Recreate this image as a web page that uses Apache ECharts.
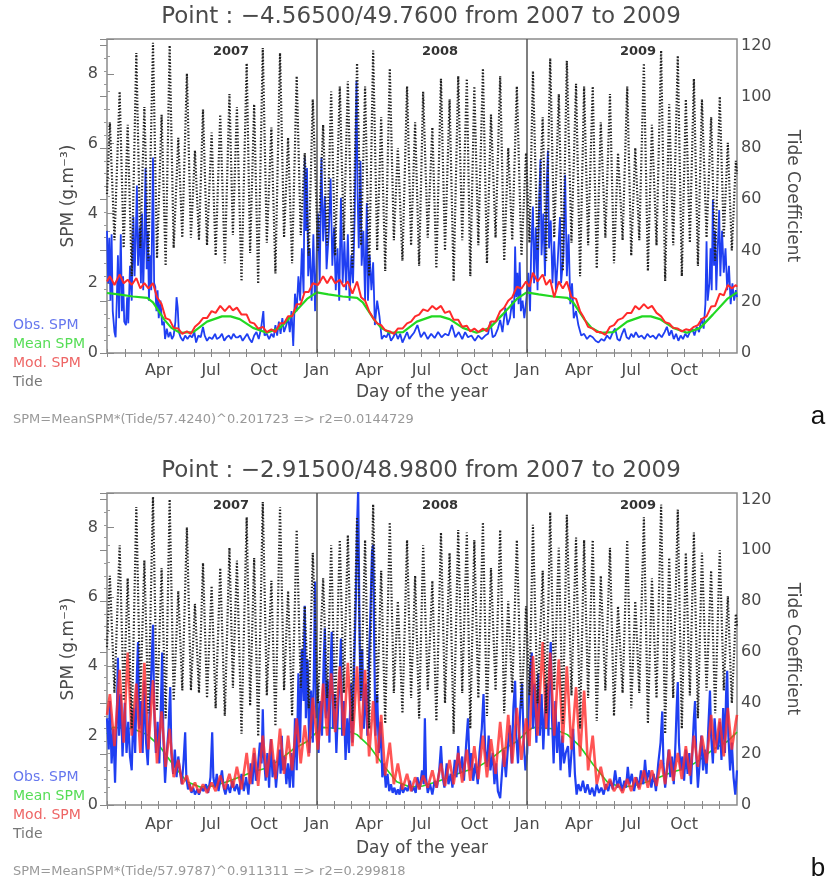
<!DOCTYPE html>
<html>
<head>
<meta charset="utf-8">
<script src="https://cdn.jsdelivr.net/npm/echarts@6/dist/echarts.min.js"></script>
<style>
  html, body { margin: 0; padding: 0; background: #fff; }
  #chart { width: 830px; height: 886px; }
</style>
</head>
<body>
<div id="chart"></div>
<script>
// x axis is "day since 1 Jan 2007" (2007..2009, 2008 leap)
var yearStart = [0, 365, 731];
var yearNames = ['2007', '2008', '2009'];
var monthTicks = [0,31,59,90,120,151,181,212,243,273,304,334,
  365,396,425,456,486,517,547,578,609,639,670,700,
  731,762,790,821,851,882,912,943,974,1004,1035,1065];
var xLabelDays = [90,181,273,365,456,547,639,731,821,912,1004];
var xLabelText = ['Apr','Jul','Oct','Jan','Apr','Jul','Oct','Jan','Apr','Jul','Oct'];

// tide coefficient: alternating spring / neap extrema (same tide for both points)
var tideDay = [0,
  5,13, 22,29, 36,43, 51,58, 65,72, 80,87, 95,102, 109,116, 124,131, 139,146, 153,160, 167,174, 182,189,
  197,205, 213,219, 226,234, 243,249, 256,263, 271,278, 286,293, 301,308, 315,322, 330,337, 344,351, 358,367,
  376,383, 390,397, 405,412, 419,427, 435,442, 449,456, 463,470, 477,484, 492,499, 506,514, 522,529, 536,543,
  550,558, 566,573, 581,588, 596,603, 611,618, 626,632, 639,646, 654,661, 668,676, 684,691, 698,705, 713,721, 729,735,
  741,749, 758,764, 771,778, 786,793, 800,808, 816,823, 830,837, 845,852, 859,867, 875,882, 889,897, 905,912,
  919,926, 934,941, 948,956, 964,971, 978,985, 993,1000, 1007,1014, 1021,1028, 1035,1043, 1051,1058, 1066,1073, 1080,1087,
  1094, 1096];
var tideVal = [62,
  90,44, 102,41, 89,30, 117,41, 96,36, 121,37, 93,34, 120,41, 84,45, 109,45, 79,44, 95,42, 86,38,
  93,35, 101,46, 96,28, 113,39, 97,27, 119,43, 88,31, 117,45, 84,35, 108,46, 78,38, 99,40,
  89,42, 102,38, 104,44, 106,33, 113,42, 104,30, 118,40, 92,32, 111,44, 80,36, 104,42, 90,34,
  102,45, 88,33, 107,40, 99,28, 108,44, 107,30, 104,42, 111,35, 93,45, 108,36, 80,44, 104,38, 78,43,
  110,40, 92,36, 115,45, 101,32, 114,43, 105,30, 104,42, 104,33, 90,45, 101,35, 78,44, 104,38,
  80,44, 113,32, 89,42, 118,28, 97,42, 116,30, 99,43, 107,34, 99,45, 92,36, 100,45, 82,40,
  75, 70];

// modelled SPM, read at the tide extrema (panel a, panel b)
var modA = [2.05,
  2.2,1.95, 2.25,2.0, 2.1,1.95, 2.15,1.85, 2.0,1.85, 2.0,1.6, 1.4,1.0, 0.95,0.72, 0.7,0.55, 0.62,0.55, 0.75,0.85, 1.0,1.0, 1.2,1.15,
  1.35,1.2, 1.35,1.22, 1.3,1.1, 1.1,0.88, 0.85,0.7, 0.75,0.6, 0.68,0.6, 0.85,0.85, 1.05,1.05, 1.4,1.4, 1.75,1.75, 2.0,1.95,
  2.2,2.0, 2.2,2.0, 2.1,1.9, 2.05,1.7, 2.05,1.6, 1.5,1.2, 1.0,0.85, 0.8,0.65, 0.62,0.55, 0.7,0.7, 0.85,0.9, 1.05,1.1,
  1.25,1.2, 1.35,1.25, 1.35,1.15, 1.2,0.95, 0.95,0.75, 0.78,0.62, 0.7,0.6, 0.7,0.62, 0.9,0.9, 1.2,1.3, 1.5,1.6, 1.9,1.85, 2.05,1.9,
  2.3,2.05, 2.25,1.95, 2.1,1.6, 2.05,1.85, 2.05,1.6, 1.55,1.2, 1.0,0.75, 0.7,0.6, 0.6,0.52, 0.75,0.8, 0.95,1.0, 1.15,1.15,
  1.35,1.25, 1.4,1.28, 1.35,1.15, 1.05,0.88, 0.85,0.72, 0.7,0.62, 0.68,0.65, 0.75,0.8, 0.98,1.05, 1.33,1.35, 1.7,1.65, 1.95,1.85,
  1.95, 1.9];
var modB = [2.6,
  3.2,1.7, 3.9,1.8, 4.4,2.0, 3.5,1.5, 4.1,1.6, 3.6,1.2, 2.7,1.1, 2.2,0.8, 1.3,0.6, 0.85,0.4, 0.65,0.35, 0.6,0.35, 0.65,0.4,
  0.85,0.45, 0.9,0.5, 1.1,0.45, 1.5,0.6, 1.65,0.55, 2.0,0.8, 1.9,0.75, 2.2,0.9, 2.0,1.0, 2.5,1.2, 2.3,1.4, 3.1,1.6,
  3.5,2.0, 3.8,2.1, 4.0,2.0, 4.1,1.7, 4.0,1.9, 3.9,1.4, 3.0,1.2, 2.6,0.85, 1.8,0.6, 1.2,0.45, 0.9,0.4, 0.8,0.45,
  0.85,0.5, 1.0,0.5, 1.2,0.55, 1.3,0.6, 1.5,0.65, 1.6,0.7, 1.7,0.75, 2.0,0.8, 1.9,0.9, 2.4,1.1, 2.6,1.2, 2.8,1.3, 2.5,1.7,
  4.3,2.0, 4.7,2.2, 4.4,2.0, 4.2,1.8, 4.0,1.6, 3.4,1.4, 3.3,1.0, 2.0,0.6, 1.1,0.45, 0.75,0.4, 0.6,0.35, 0.75,0.4,
  0.8,0.45, 1.0,0.5, 1.0,0.55, 1.3,0.6, 1.6,0.7, 1.5,0.75, 1.7,0.85, 2.0,1.1, 2.0,1.2, 2.6,1.5, 2.5,1.4, 2.8,1.6,
  2.4, 2.6];

// mean SPM climatology (day of year -> value), same curve every year
var meanA_doy = [0, 20, 45, 70, 80, 90, 100, 112, 127, 150, 174, 200, 215, 231, 254, 278, 301, 323, 348, 365];
var meanA_val = [1.72, 1.68, 1.62, 1.58, 1.45, 1.2, 0.95, 0.72, 0.58, 0.6, 0.9, 1.05, 1.05, 0.97, 0.72, 0.58, 0.72, 1.1, 1.55, 1.74];
var meanB_doy = [0, 10, 45, 70, 92, 115, 139, 162, 184, 209, 231, 254, 278, 301, 323, 348, 365];
var meanB_val = [2.05, 2.24, 2.2, 2.03, 1.69, 1.16, 0.67, 0.52, 0.55, 0.67, 0.81, 0.96, 1.07, 1.31, 1.6, 1.83, 2.1];

// observed SPM [day, value]
var obsA = [[0,3.5],[2,2.0],[4,3.3],[6,1.5],[8,3.4],[10,1.2],[13,0.6],[15,0.45],[17,1.5],[19,2.8],[21,1.0],[24,3.4],
  [26,1.2],[28,2.2],[30,0.9],[33,0.8],[35,1.6],[37,0.85],[40,2.5],[43,1.5],[46,3.9],[48,2.2],[50,3.3],[52,4.8],
  [54,2.5],[57,3.6],[59,2.0],[61,4.0],[63,1.8],[65,3.2],[67,5.3],[69,2.4],[71,3.5],[73,1.5],[75,2.8],[77,1.8],
  [80,5.6],[82,2.0],[84,1.9],[86,1.2],[88,1.8],[90,1.0],[93,1.5],[96,0.8],[99,0.9],[101,0.4],[104,0.7],[107,0.45],
  [110,0.6],[113,0.4],[116,0.5],[119,0.9],[121,1.6],[123,1.3],[125,0.6],[128,0.45],[132,0.35],[136,0.5],[140,0.4],
  [144,0.5],[148,0.45],[152,0.6],[155,0.3],[159,0.5],[163,0.45],[167,0.75],[170,0.5],[174,0.35],[178,0.45],
  [183,0.4],[188,0.55],[191,0.4],[196,0.45],[200,0.55],[204,0.35],[208,0.45],[212,0.5],[216,0.4],[220,0.55],
  [224,0.45],[228,0.45],[232,0.5],[236,0.35],[240,0.45],[244,0.55],[248,0.4],[252,0.3],[256,0.5],[260,0.6],
  [264,0.4],[268,0.7],[272,1.2],[274,0.5],[278,0.55],[282,0.4],[286,0.55],[290,0.45],[293,0.8],[296,0.5],
  [299,0.9],[302,0.55],[305,1.0],[308,0.6],[312,0.8],[315,1.05],[318,0.6],[321,1.2],[324,0.2],[327,1.7],
  [330,1.2],[333,2.2],[336,1.5],[339,3.0],[342,1.7],[344,5.6],[346,3.5],[348,5.3],[350,2.2],[353,3.0],
  [356,1.5],[359,3.4],[362,1.2],
  [365,3.0],[367,4.0],[370,2.0],[373,5.6],[376,3.2],[379,4.5],[382,2.4],[386,3.5],[389,5.0],[392,2.5],[395,3.6],
  [398,1.8],[401,3.0],[404,1.5],[407,4.45],[410,2.0],[413,3.2],[416,1.8],[419,3.4],[422,1.5],[425,2.8],[428,2.0],
  [431,4.0],[434,7.8],[436,4.5],[438,3.0],[441,5.5],[443,2.5],[446,3.5],[449,1.5],[452,4.3],[454,1.5],[457,2.8],
  [460,1.8],[463,2.6],[466,0.8],[470,1.5],[474,1.05],[478,0.4],[482,0.5],[486,0.45],[490,0.6],[494,0.35],
  [498,0.45],[502,0.6],[506,0.4],[510,0.55],[514,0.3],[518,0.45],[522,0.6],[526,0.4],[530,0.5],[534,0.58],
  [540,0.8],[546,0.45],[552,0.6],[558,0.4],[564,0.55],[570,0.43],[576,0.6],[582,0.45],[588,0.55],[594,0.5],
  [600,0.8],[606,0.45],[612,0.6],[618,0.4],[623,0.6],[628,0.45],[634,0.5],[640,0.35],[646,0.5],[652,0.4],
  [658,0.5],[663,0.55],[667,0.9],[671,0.45],[675,0.5],[680,0.7],[684,0.95],[688,0.6],[693,1.3],[697,0.8],
  [701,1.0],[705,1.5],[708,1.0],[710,3.05],[712,1.6],[714,2.3],[716,1.4],[718,2.6],[720,1.2],[723,1.5],
  [726,1.0],[729,1.45],[731,1.8],
  [733,2.3],[736,1.2],[738,3.0],[741,4.2],[743,2.0],[746,3.6],[749,1.8],[752,4.5],[754,5.55],[756,2.8],
  [759,4.0],[762,2.2],[765,4.8],[767,5.8],[769,3.0],[772,3.8],[775,2.0],[778,3.2],[781,1.8],[784,2.6],
  [788,3.9],[790,2.0],[794,2.8],[797,5.1],[800,2.2],[803,3.4],[806,1.4],[809,2.0],[812,1.0],[816,1.2],
  [820,0.8],[825,0.5],[830,0.55],[835,0.4],[840,0.5],[845,0.45],[850,0.35],[855,0.3],[860,0.4],[865,0.35],
  [870,0.5],[875,0.4],[880,0.6],[884,0.7],[888,0.4],[892,0.35],[896,0.55],[900,0.7],[904,0.45],[908,0.4],
  [912,0.55],[916,0.45],[920,0.6],[925,0.45],[930,0.5],[935,0.4],[940,0.55],[945,0.45],[950,0.5],[955,0.4],
  [960,0.55],[965,0.45],[970,0.6],[974,0.75],[978,0.5],[982,0.65],[986,0.4],[990,0.55],[994,0.35],[998,0.5],
  [1002,0.4],[1006,0.55],[1010,0.45],[1014,0.6],[1018,0.7],[1022,0.5],[1026,0.75],[1030,0.6],[1034,1.0],
  [1038,0.7],[1041,1.4],[1043,3.2],[1045,1.5],[1048,2.0],[1050,3.0],[1052,1.8],[1054,4.4],[1056,2.5],
  [1058,3.5],[1060,1.8],[1062,2.8],[1065,4.1],[1067,2.2],[1070,3.5],[1073,2.3],[1076,3.0],[1079,1.8],
  [1082,2.5],[1085,1.4],[1088,2.0],[1091,1.5],[1094,1.8],[1096,1.6]];

var obsB = [[0,2.5],[3,1.6],[5,3.0],[8,1.2],[11,2.2],[14,0.64],[17,2.5],[19,4.25],[21,2.0],[24,3.2],[27,1.4],
  [31,2.95],[34,1.5],[37,2.4],[40,1.4],[43,1.0],[46,2.8],[49,1.5],[52,3.8],[54,4.7],[56,2.2],[59,3.0],[62,1.5],
  [65,3.6],[68,1.8],[71,1.15],[74,2.6],[77,3.8],[80,5.2],[82,2.8],[85,1.5],[88,2.4],[91,1.2],[94,3.0],[96,4.4],
  [98,2.0],[101,0.64],[104,1.5],[107,2.2],[110,3.4],[112,1.5],[115,0.9],[118,1.6],[121,0.8],[124,1.4],[127,1.0],
  [130,0.6],[133,1.2],[136,2.1],[138,0.8],[141,0.45],[144,0.6],[147,0.35],[150,0.5],[153,0.3],[157,0.45],
  [160,0.3],[164,0.5],[168,0.4],[172,0.6],[176,0.35],[180,0.8],[183,2.1],[185,0.8],[188,0.5],[191,0.9],
  [194,0.4],[197,0.7],[200,1.0],[203,0.5],[206,0.3],[210,0.6],[214,0.35],[218,0.7],[222,0.4],[226,0.6],
  [230,0.3],[234,0.9],[238,0.4],[242,0.8],[246,0.3],[250,1.2],[253,0.6],[256,1.5],[259,0.7],[262,1.0],
  [266,1.8],[269,1.2],[271,2.76],[273,1.4],[276,0.7],[279,1.5],[282,0.5],[285,1.9],[288,0.8],[291,1.3],
  [294,0.5],[297,1.1],[300,1.6],[302,0.9],[304,2.0],[306,1.0],[309,1.4],[312,0.6],[315,1.2],[318,0.5],
  [321,1.5],[324,0.5],[327,2.5],[330,1.0],[333,3.8],[336,1.8],[339,4.5],[342,3.0],[344,5.75],[346,2.5],
  [349,4.2],[352,1.5],[355,3.3],[358,1.8],[360,4.0],[362,6.45],[364,2.5],
  [366,3.5],[368,1.5],[371,3.0],[374,2.0],[377,4.2],[379,5.1],[381,2.5],[384,3.6],[387,1.8],[389,4.0],[391,5.0],
  [393,2.2],[396,3.2],[399,1.5],[402,2.8],[405,3.8],[407,4.8],[409,2.0],[412,3.0],[415,1.3],[418,2.5],[421,1.5],
  [424,3.5],[427,1.8],[430,4.0],[433,6.0],[435,8.0],[437,9.1],[439,5.5],[441,3.0],[444,4.5],[447,2.2],[450,3.5],
  [453,2.0],[456,4.2],[459,6.0],[461,7.3],[463,7.5],[465,4.5],[467,2.0],[470,3.2],[473,1.5],[476,2.4],[479,0.8],
  [482,1.2],[485,0.5],[488,0.9],[491,0.4],[494,0.6],[497,0.35],[500,0.5],[503,0.3],[506,0.45],[509,0.3],
  [512,0.6],[515,0.35],[519,0.5],[523,0.4],[527,0.7],[530,0.4],[534,0.5],[537,0.35],[540,0.8],[544,0.45],
  [548,1.0],[551,0.6],[553,2.5],[555,0.8],[558,0.35],[562,0.6],[566,0.3],[570,0.7],[574,0.5],[578,1.0],
  [581,1.7],[584,0.8],[587,0.5],[591,1.2],[594,0.6],[598,0.9],[601,0.5],[605,1.3],[608,0.8],[611,1.7],
  [614,0.9],[618,1.4],[621,0.7],[625,1.8],[628,2.5],[631,1.0],[634,1.5],[637,0.7],[641,1.2],[645,0.6],
  [648,1.5],[652,2.2],[655,3.2],[658,1.6],[661,1.1],[664,2.0],[667,1.0],[671,1.5],[674,0.6],[677,1.2],
  [680,0.4],[684,0.2],[687,0.9],[690,1.6],[694,0.8],[698,1.8],[701,2.3],[704,1.2],[707,2.8],[710,3.58],
  [712,2.0],[715,1.2],[719,2.8],[722,3.5],[725,1.8],[728,1.0],[731,1.5],
  [734,3.0],[737,4.0],[739,4.4],[741,2.2],[744,3.5],[747,1.8],[750,3.8],[753,2.0],[756,3.2],[759,1.6],
  [762,2.8],[765,3.5],[768,2.0],[770,4.0],[772,4.7],[774,2.6],[777,1.2],[780,3.0],[783,1.5],[786,2.4],
  [789,1.0],[792,2.0],[795,1.2],[798,1.5],[802,1.7],[805,0.8],[808,1.5],[811,2.2],[814,0.9],[817,0.3],
  [820,0.6],[824,0.4],[828,0.7],[832,0.35],[836,0.6],[840,0.3],[844,0.5],[848,0.25],[852,0.6],[856,0.35],
  [860,0.5],[864,0.3],[868,0.6],[872,0.4],[876,0.7],[880,0.45],[884,1.0],[888,0.5],[892,0.8],[896,0.4],
  [900,0.7],[903,0.5],[906,1.1],[909,0.6],[913,0.9],[917,0.4],[921,0.8],[925,0.5],[929,1.0],[933,0.6],
  [936,1.3],[939,0.7],[943,1.0],[947,0.5],[951,0.9],[955,0.4],[959,1.2],[963,1.8],[966,2.7],[968,1.2],
  [971,0.5],[974,1.0],[977,1.6],[980,0.8],[983,1.4],[986,0.6],[989,1.8],[991,2.8],[993,3.55],[995,1.8],
  [998,1.0],[1001,1.4],[1004,0.7],[1007,1.6],[1010,0.9],[1013,1.5],[1016,0.6],[1019,1.8],[1021,2.5],
  [1023,3.0],[1025,1.5],[1028,0.5],[1031,1.2],[1034,2.0],[1037,1.0],[1040,1.6],[1043,0.9],[1046,2.2],
  [1049,3.3],[1051,2.0],[1054,1.2],[1057,2.5],[1060,1.8],[1063,1.6],[1066,2.4],[1069,1.3],[1072,2.8],
  [1075,1.5],[1077,3.2],[1079,3.87],[1081,2.0],[1084,1.0],[1087,1.8],[1090,0.8],[1093,0.3],[1096,1.0]];

var panels = [
  {title: 'Point : \u22124.56500/49.7600 from 2007 to 2009', fit: 'SPM=MeanSPM*(Tide/57.4240)^0.201723 => r2=0.0144729',
   letter: 'a', top: 39, height: 314, obs: obsA, mod: modA, meanDoy: meanA_doy, meanVal: meanA_val},
  {title: 'Point : \u22122.91500/48.9800 from 2007 to 2009', fit: 'SPM=MeanSPM*(Tide/57.9787)^0.911311 => r2=0.299818',
   letter: 'b', top: 493, height: 312, obs: obsB, mod: modB, meanDoy: meanB_doy, meanVal: meanB_val}
];

function zipTide(vals) {
  return tideDay.map(function (d, i) { return [d, vals[i]]; });
}
function yearly(doy, val) {
  var out = [];
  yearStart.forEach(function (s) {
    doy.forEach(function (d, i) { out.push([s + d, val[i]]); });
  });
  return out;
}

var FONT = 'DejaVu Sans';
var AX = '#4a4a4a';
var grids = [], xAxes = [], yAxes = [], series = [], graphics = [];

panels.forEach(function (p, k) {
  grids.push({left: 107, top: p.top, width: 630, height: p.height, show: true,
    borderColor: '#8a8a8a', borderWidth: 1.5, backgroundColor: 'transparent'});

  var labMap = {};
  xLabelDays.forEach(function (d, i) { labMap[d] = xLabelText[i]; });
  xAxes.push({gridIndex: k, type: 'value', min: 0, max: 1096, position: 'bottom',
    name: 'Day of the year', nameLocation: 'middle', nameGap: k === 0 ? 31 : 35,
    nameTextStyle: {fontFamily: FONT, fontSize: 17, color: AX},
    axisLine: {show: false},
    axisTick: {show: true, inside: true, length: 4, customValues: monthTicks, lineStyle: {color: '#888'}},
    axisLabel: {show: true, customValues: xLabelDays, margin: k === 0 ? 10 : 12,
      fontFamily: FONT, fontSize: 16, color: AX,
      formatter: function (v) { return labMap[v] || ''; }},
    splitLine: {show: false}});
  xAxes.push({gridIndex: k, type: 'value', min: 0, max: 1096, position: 'top',
    axisLine: {show: false},
    axisTick: {show: true, inside: true, length: 4, customValues: monthTicks, lineStyle: {color: '#888'}},
    axisLabel: {show: false}, splitLine: {show: false}});

  yAxes.push({gridIndex: k, type: 'value', min: 0, max: 9, interval: 2, position: 'left',
    name: 'SPM (g.m\u207B\u00B3)', nameLocation: 'middle', nameGap: 30, nameRotate: 90,
    nameTextStyle: {fontFamily: FONT, fontSize: 17, color: AX},
    axisLine: {show: false},
    axisTick: {show: true, inside: true, length: 7, lineStyle: {color: '#888'}},
    minorTick: {show: true, splitNumber: 4, length: 3, lineStyle: {color: '#999'}},
    axisLabel: {margin: 9, fontFamily: FONT, fontSize: 16, color: AX,
      formatter: function (v) { return v % 2 === 0 ? String(v) : ''; }},
    splitLine: {show: false}});
  yAxes.push({gridIndex: k, type: 'value', min: 0, max: 122.5, interval: 20, position: 'right',
    name: 'Tide Coefficient', nameLocation: 'middle', nameGap: 47, nameRotate: -90,
    nameTextStyle: {fontFamily: FONT, fontSize: 17, color: AX},
    axisLine: {show: false},
    axisTick: {show: true, inside: true, length: 7, lineStyle: {color: '#888'}},
    minorTick: {show: true, splitNumber: 4, length: 3, lineStyle: {color: '#999'}},
    axisLabel: {margin: 4, fontFamily: FONT, fontSize: 16, color: AX,
      formatter: function (v) { return v % 20 === 0 ? String(v) : ''; }},
    splitLine: {show: false}});

  var xi = k * 2, yl = k * 2, yr = k * 2 + 1;
  var strong = k === 1;
  series.push({name: 'Mean SPM', type: 'line', xAxisIndex: xi, yAxisIndex: yl, showSymbol: false,
    data: yearly(p.meanDoy, p.meanVal), z: strong ? 2 : 4,
    lineStyle: {color: '#22d822', width: strong ? 1.6 : 2.2},
    markLine: {silent: true, symbol: 'none', label: {show: false},
      lineStyle: {color: '#555', width: 1.5, type: 'solid'},
      data: [{xAxis: yearStart[1]}, {xAxis: yearStart[2]}]}});
  series.push({name: 'Obs. SPM', type: 'line', xAxisIndex: xi, yAxisIndex: yl, showSymbol: false,
    data: p.obs, z: 3,
    lineStyle: {color: '#1f3ff2', width: strong ? 2.2 : 1.8}});
  series.push({name: 'Mod. SPM', type: 'line', xAxisIndex: xi, yAxisIndex: yl, showSymbol: false,
    data: zipTide(p.mod), z: 5,
    lineStyle: {color: '#ff2a2a', width: strong ? 2.6 : 2, opacity: strong ? 0.8 : 1}});
  series.push({name: 'Tide', type: 'line', xAxisIndex: xi, yAxisIndex: yr, showSymbol: false,
    data: zipTide(tideVal), z: 6,
    lineStyle: {color: '#222', width: 2.2, type: [1.4, 1.8]}});

  // texts
  var titleY = p.top - 22;
  graphics.push({type: 'text', x: 421, y: titleY, style: {text: p.title, font: '23px ' + FONT,
    fill: AX, align: 'center', verticalAlign: 'middle'}});
  var yrX = [231, 440, 638];
  yrX.forEach(function (x, i) {
    graphics.push({type: 'text', x: x, y: p.top + 13, style: {text: yearNames[i],
      font: 'bold 13px ' + FONT, fill: '#333', align: 'center', verticalAlign: 'middle'}});
  });
  var legTop = p.top + p.height - 28;
  var legend = [['Obs. SPM', '#6677ee'], ['Mean SPM', '#55dd55'], ['Mod. SPM', '#ee6666'], ['Tide', '#777']];
  legend.forEach(function (l, i) {
    graphics.push({type: 'text', x: 13, y: legTop + i * 19, style: {text: l[0], font: '14px ' + FONT,
      fill: l[1], align: 'left', verticalAlign: 'middle'}});
  });
  graphics.push({type: 'text', x: 13, y: p.top + p.height + 67, style: {text: p.fit, font: '13px ' + FONT,
    fill: '#999', align: 'left', verticalAlign: 'middle'}});
  graphics.push({type: 'text', x: 818, y: p.top + p.height + 64, style: {text: p.letter,
    font: '26px Liberation Sans', fill: '#111', align: 'center', verticalAlign: 'middle'}});
});

var chart = echarts.init(document.getElementById('chart'), null, {renderer: 'canvas'});
chart.setOption({
  animation: false,
  backgroundColor: '#fff',
  grid: grids,
  xAxis: xAxes,
  yAxis: yAxes,
  series: series,
  graphic: graphics
});
</script>
</body>
</html>
